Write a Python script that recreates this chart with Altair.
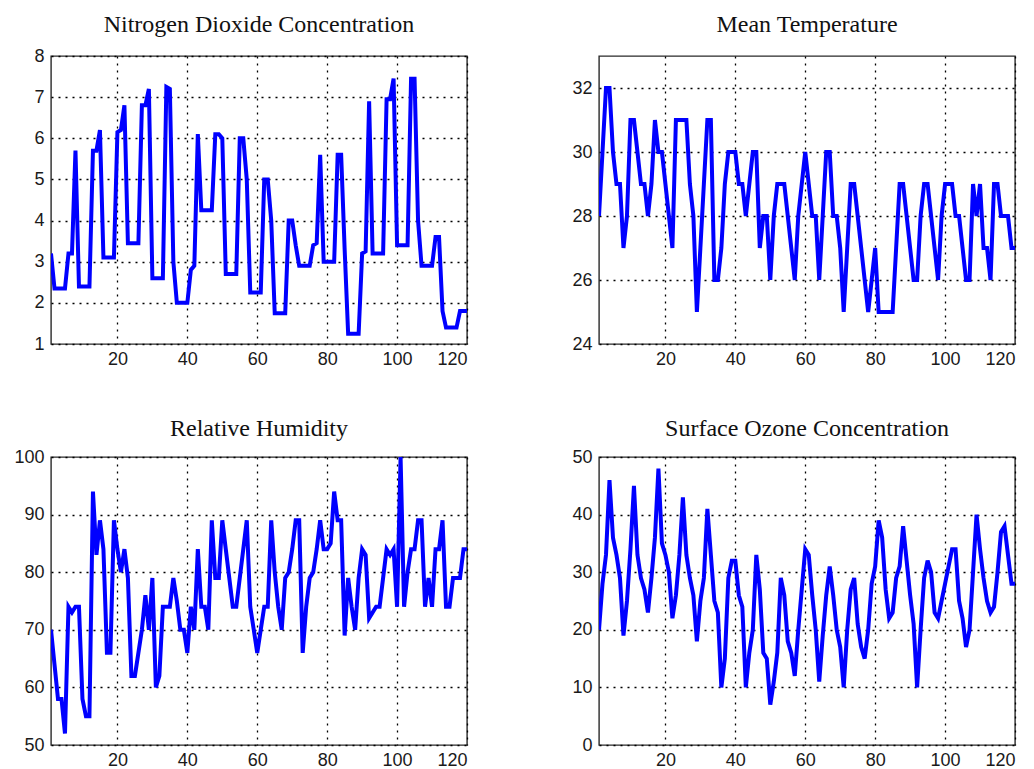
import altair as alt
import pandas as pd

days = list(range(1, 121))

no2 = [3.2, 2.35, 2.35, 2.35, 2.35, 3.2, 3.2, 5.7, 2.4, 2.4,
       2.4, 2.4, 5.7, 5.7, 6.2, 3.1, 3.1, 3.1, 3.1, 6.15,
       6.2, 6.8, 3.45, 3.45, 3.45, 3.45, 6.8, 6.8, 7.2, 2.6,
       2.6, 2.6, 2.6, 7.25, 7.2, 3.0, 2.0, 2.0, 2.0, 2.0,
       2.8, 2.9, 6.1, 4.25, 4.25, 4.25, 4.25, 6.1, 6.1, 6.0,
       2.7, 2.7, 2.7, 2.7, 6.0, 6.0, 5.0, 2.25, 2.25, 2.25,
       2.25, 5.0, 5.0, 4.0, 1.75, 1.75, 1.75, 1.75, 4.0, 4.0,
       3.4, 2.9, 2.9, 2.9, 2.9, 3.4, 3.45, 5.6, 3.0, 3.0,
       3.0, 3.0, 5.6, 5.6, 3.3, 1.25, 1.25, 1.25, 1.25, 3.2,
       3.25, 6.9, 3.2, 3.2, 3.2, 3.2, 6.95, 6.95, 7.45, 3.4,
       3.4, 3.4, 3.4, 7.45, 7.45, 4.0, 2.9, 2.9, 2.9, 2.9,
       3.6, 3.6, 1.8, 1.4, 1.4, 1.4, 1.4, 1.8, 1.8, 1.8]

temp = [28, 30, 32, 32, 30, 29, 29, 27, 28, 31,
        31, 30, 29, 29, 28, 29, 31, 30, 30, 29,
        28, 27, 31, 31, 31, 31, 29, 28, 25, 27,
        29, 31, 31, 26, 26, 27, 29, 30, 30, 30,
        29, 29, 28, 29, 30, 30, 27, 28, 28, 26,
        28, 29, 29, 29, 28, 27, 26, 28, 29, 30,
        29, 28, 28, 26, 28, 30, 30, 28, 28, 27,
        25, 27, 29, 29, 28, 27, 26, 25, 26, 27,
        25, 25, 25, 25, 25, 27, 29, 29, 28, 27,
        26, 26, 28, 29, 29, 28, 27, 26, 28, 29,
        29, 29, 28, 28, 27, 26, 26, 29, 28, 29,
        27, 27, 26, 29, 29, 28, 28, 28, 27, 27]

rh = [70, 64, 58, 58, 52, 74, 73, 74, 74, 58,
      55, 55, 94, 83, 89, 84, 66, 66, 89, 84,
      80, 84, 79, 62, 62, 66, 70, 76, 70, 79,
      60, 62, 74, 74, 74, 79, 75, 70, 70, 66,
      74, 70, 84, 74, 74, 70, 89, 79, 79, 89,
      84, 79, 74, 74, 79, 84, 89, 74, 70, 66,
      70, 74, 74, 89, 80, 74, 70, 79, 80, 84,
      89, 89, 66, 74, 79, 80, 84, 89, 84, 84,
      85, 94, 89, 89, 69, 79, 74, 70, 79, 84,
      83, 72, 73, 74, 74, 79, 84, 83, 84, 74,
      100, 74, 80, 84, 84, 89, 89, 74, 79, 74,
      84, 84, 89, 74, 74, 79, 79, 79, 84, 84]

o3 = [20, 28, 33, 46, 36, 33, 29, 19, 25, 34,
      45, 33, 29, 27, 23, 29, 36, 48, 35, 33,
      30, 22, 26, 33, 43, 33, 29, 26, 18, 25,
      29, 41, 33, 25, 23, 10, 15, 29, 32, 32,
      26, 24, 10, 16, 20, 33, 27, 16, 15, 7,
      11, 16, 29, 26, 18, 16, 12, 20, 27, 34,
      33, 26, 20, 11, 19, 26, 31, 26, 20, 17,
      10, 20, 27, 29, 21, 17, 15, 20, 28, 31,
      39, 36, 27, 22, 23, 29, 31, 38, 32, 26,
      21, 10, 20, 29, 32, 30, 23, 22, 25, 28,
      31, 34, 34, 25, 22, 17, 20, 30, 40, 34,
      29, 25, 23, 24, 30, 37, 38, 33, 28, 28]

titles = ["Nitrogen Dioxide Concentration", "Mean Temperature",
          "Relative Humidity", "Surface Ozone Concentration"]
y_domains = [[1, 8], [24, 33], [50, 100], [0, 50]]
y_ticks = [[1, 2, 3, 4, 5, 6, 7, 8], [24, 26, 28, 30, 32],
           [50, 60, 70, 80, 90, 100], [0, 10, 20, 30, 40, 50]]
x_ticks = [20, 40, 60, 80, 100, 120]
series = [no2, temp, rh, o3]
title_gap = [24, 24, 21, 21]

W, H = 416, 288


def panel(vals, title, ydom, yt, gap):
    df = pd.DataFrame({"day": days, "value": vals})
    line = alt.Chart(df).mark_line(color="#0000FF", strokeWidth=4, clip=True).encode(
        x=alt.X("day:Q", scale=alt.Scale(domain=[1, 120], nice=False, zero=False),
                axis=alt.Axis(values=x_ticks, title=None)),
        y=alt.Y("value:Q", scale=alt.Scale(domain=ydom, nice=False, zero=False),
                axis=alt.Axis(values=yt, title=None)),
    )
    head = alt.Chart(pd.DataFrame({"t": [title]})).mark_text(
        font="Liberation Serif", fontSize=24, color="#111111",
        align="center", baseline="alphabetic",
    ).encode(
        text="t:N", x=alt.value(W / 2), y=alt.value(-gap),
    )
    return alt.layer(line, head).properties(width=W, height=H)


charts = [panel(series[i], titles[i], y_domains[i], y_ticks[i], title_gap[i])
          for i in range(4)]

chart = alt.ConcatChart(
    concat=charts, columns=2,
    spacing=alt.RowColnumber(row=113, column=132),
    bounds="flush",
).properties(
    padding={"left": 13, "top": 12, "right": 5, "bottom": 1},
    background="white",
).configure_view(
    stroke="#2a2a2a", strokeWidth=1.4,
).configure_axis(
    labelFont="Liberation Sans", labelFontSize=18, labelColor="#1a1a1a",
    grid=True, gridColor="#000000", gridDash=[2, 5], gridWidth=1.3, gridOpacity=1,
    domain=False, ticks=False, labelPadding=7,
).configure_axisX(
    labelPadding=6,
)

chart.save("out.html", embed_options={"renderer": "svg", "actions": False})
